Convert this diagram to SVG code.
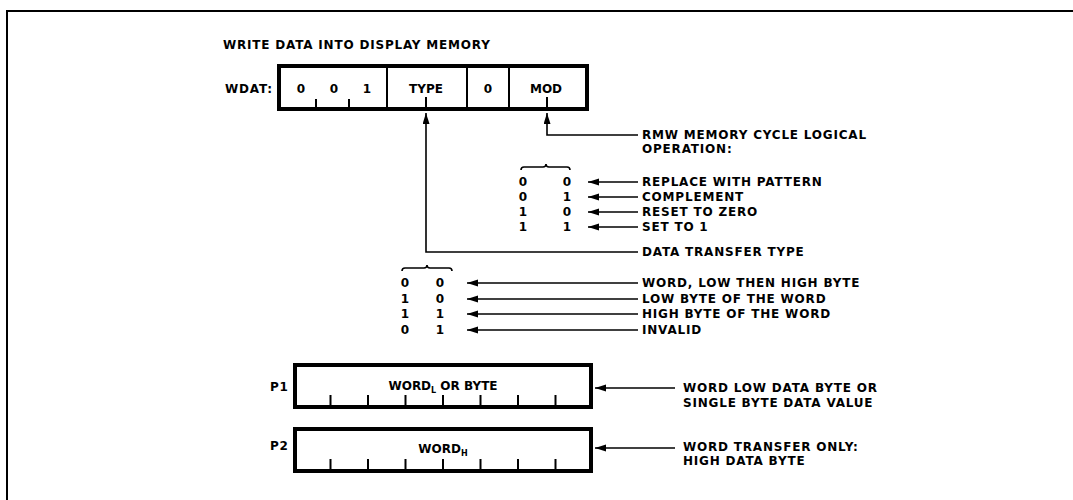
<svg xmlns="http://www.w3.org/2000/svg" width="1073" height="500" viewBox="0 0 1073 500">
<style>
text{font-family:"DejaVu Sans","Liberation Sans",sans-serif;font-weight:bold;font-size:12px;letter-spacing:0.8px;fill:#000}
.m{text-anchor:middle;letter-spacing:0}
.box{fill:#fff;stroke:#000;stroke-width:4}
.thin{fill:none;stroke:#000;stroke-width:2}
.con{fill:none;stroke:#000;stroke-width:1.6}
.sub{font-size:8px;letter-spacing:0}
</style>
<defs>
<marker id="ah" markerUnits="userSpaceOnUse" markerWidth="12" markerHeight="8" refX="11" refY="3.5" orient="auto">
<path d="M0,0 L11,3.5 L0,7 z" fill="#000"/>
</marker>
</defs>
<rect width="1073" height="500" fill="#fff"/>
<path d="M7,500 V11 H1073" class="thin"/>
<text x="223" y="49">WRITE DATA INTO DISPLAY MEMORY</text>

<g id="wdat">
<text x="225" y="93">WDAT:</text>
<rect x="279" y="66" width="308" height="43" class="box"/>
<path d="M387,66 V109 M467,66 V109 M509,66 V109 M316,99 V109 M349,99 V109 M426,97 V109 M547,97 V109" class="thin"/>
<text class="m" x="301" y="93">0</text>
<text class="m" x="334" y="93">0</text>
<text class="m" x="367" y="93">1</text>
<text class="m" x="426" y="93">TYPE</text>
<text class="m" x="488" y="93">0</text>
<text class="m" x="546" y="93">MOD</text>
</g>

<g id="mod-label">
<text x="642" y="139">RMW MEMORY CYCLE LOGICAL</text>
<text x="642" y="153">OPERATION:</text>
</g>

<g id="mod-table">
<path d="M521,170 Q521,167 524,167 H543 Q546,167 546,164 Q546,167 549,167 H567 Q570,167 570,170" class="con" stroke-width="1.2"/>
<text class="m" x="523" y="186">0</text><text class="m" x="567" y="186">0</text>
<text class="m" x="523" y="201">0</text><text class="m" x="567" y="201">1</text>
<text class="m" x="523" y="216">1</text><text class="m" x="567" y="216">0</text>
<text class="m" x="523" y="231">1</text><text class="m" x="567" y="231">1</text>
<text x="642" y="186">REPLACE WITH PATTERN</text>
<text x="642" y="201">COMPLEMENT</text>
<text x="642" y="216">RESET TO ZERO</text>
<text x="642" y="231">SET TO 1</text>
</g>

<g id="type-label">
<text x="642" y="256">DATA TRANSFER TYPE</text>
</g>

<g id="type-table">
<path d="M402,271 Q402,268 405,268 H424 Q427,268 427,265 Q427,268 430,268 H449 Q452,268 452,271" class="con" stroke-width="1.2"/>
<text class="m" x="405" y="287">0</text><text class="m" x="440" y="287">0</text>
<text class="m" x="405" y="303">1</text><text class="m" x="440" y="303">0</text>
<text class="m" x="405" y="318">1</text><text class="m" x="440" y="318">1</text>
<text class="m" x="405" y="334">0</text><text class="m" x="440" y="334">1</text>
<text x="642" y="287">WORD, LOW THEN HIGH BYTE</text>
<text x="642" y="303">LOW BYTE OF THE WORD</text>
<text x="642" y="318">HIGH BYTE OF THE WORD</text>
<text x="642" y="334">INVALID</text>
</g>

<g id="p1">
<text x="270" y="391" letter-spacing="0">P1</text>
<rect x="295" y="365" width="296" height="42" class="box"/>
<path d="M330.5,395 V407 M368,395 V407 M405.5,395 V407 M443,395 V407 M480.5,395 V407 M518,395 V407 M555.5,395 V407" class="thin"/>
<text class="m" x="443" y="390">WORD<tspan class="sub" dy="3">L</tspan><tspan dy="-3"> OR BYTE</tspan></text>
<text x="683" y="392">WORD LOW DATA BYTE OR</text>
<text x="683" y="407">SINGLE BYTE DATA VALUE</text>
</g>

<g id="p2">
<text x="270" y="450" letter-spacing="0">P2</text>
<rect x="295" y="429" width="296" height="42" class="box"/>
<path d="M330.5,459 V471 M368,459 V471 M405.5,459 V471 M443,459 V471 M480.5,459 V471 M518,459 V471 M555.5,459 V471" class="thin"/>
<text class="m" x="443" y="453">WORD<tspan class="sub" dy="3">H</tspan></text>
<text x="683" y="451">WORD TRANSFER ONLY:</text>
<text x="683" y="465">HIGH DATA BYTE</text>
</g>

<g id="connectors">
<path d="M638,252 H426 V113" class="con" marker-end="url(#ah)"/>
<path d="M638,135 H547 V113" class="con" marker-end="url(#ah)"/>
<path d="M638,182 H588" class="con" marker-end="url(#ah)"/>
<path d="M638,197 H588" class="con" marker-end="url(#ah)"/>
<path d="M638,212 H588" class="con" marker-end="url(#ah)"/>
<path d="M638,227 H588" class="con" marker-end="url(#ah)"/>
<path d="M638,283 H467" class="con" marker-end="url(#ah)"/>
<path d="M638,299 H467" class="con" marker-end="url(#ah)"/>
<path d="M638,314 H467" class="con" marker-end="url(#ah)"/>
<path d="M638,330 H467" class="con" marker-end="url(#ah)"/>
<path d="M675,388 H595" class="con" marker-end="url(#ah)"/>
<path d="M675,448 H595" class="con" marker-end="url(#ah)"/>
</g>
</svg>
